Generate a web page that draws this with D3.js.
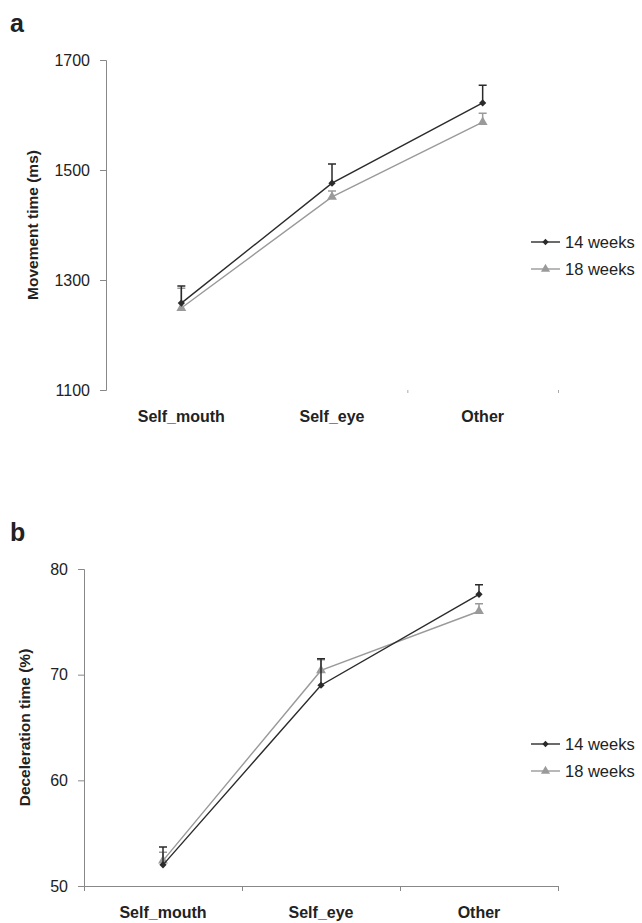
<!DOCTYPE html>
<html lang="en">
<head>
    <meta charset="UTF-8">
    <title>Movement and deceleration time</title>
    <script src="https://d3js.org/d3.v7.min.js"></script>
    <style>
        body { margin: 0; background: #fff; }
        text { font-family: "Liberation Sans", Arial, sans-serif; fill: #222; }
    </style>
</head>
<body>
    <svg id="chart"></svg>

    <script>
        // data
        const categories = ['Self_mouth', 'Self_eye', 'Other'];
        const seriesNames = ['14 weeks', '18 weeks'];

        const movement14 = [1258, 1476, 1622];
        const movement14Err = [31, 35, 32];
        const movement18 = [1249, 1451, 1587];
        const movement18Err = [36, 11, 16];
        const movementTicks = [1100, 1300, 1500, 1700];

        const decel14 = [52.0, 69.0, 77.6];
        const decel14Err = [1.7, 2.5, 0.9];
        const decel18 = [52.4, 70.4, 76.0];
        const decel18Err = [0.8, 1.0, 0.7];
        const decelTicks = [50, 60, 70, 80];

        const width = 642, height = 923;
        const svg = d3.select('#chart').attr('width', width).attr('height', height);

        const colors = ['#2b2b2b', '#9a9a9a'];
        const symbols = [d3.symbolSquare, d3.symbolTriangle];
        const rotations = [45, 0];

        function drawPanel(cfg) {
            const g = svg.append('g');

            const x = d3.scaleBand().domain(categories).range([cfg.left, cfg.right]);
            const y = d3.scaleLinear().domain(cfg.domain).range([cfg.bottom, cfg.top]);

            // panel letter
            g.append('text')
                .attr('x', 10).attr('y', cfg.top - 28)
                .attr('font-size', 25).attr('font-weight', 'bold')
                .text(cfg.letter);

            // y axis
            const yAxis = g.append('g')
                .attr('transform', `translate(${cfg.left},0)`)
                .call(d3.axisLeft(y).tickValues(cfg.ticks).tickFormat(d3.format('d')).tickSize(6).tickPadding(10));
            yAxis.select('.domain').attr('stroke', '#888');
            yAxis.selectAll('.tick line').attr('stroke', '#888');
            yAxis.selectAll('.tick text')
                .attr('font-size', 16).attr('fill', '#333')
                .style('font-family', '"Liberation Sans", Arial, sans-serif');

            // x axis: ticks on category boundaries
            const bounds = d3.range(categories.length + 1).map(i => cfg.left + i * x.step());
            const xb = d3.scaleLinear().domain([cfg.left, cfg.right]).range([cfg.left, cfg.right]);
            const xAxis = g.append('g')
                .attr('transform', `translate(0,${cfg.bottom})`)
                .call(d3.axisBottom(xb).tickValues(cfg.showDomain ? bounds : bounds.slice(2)).tickSize(cfg.showDomain ? 5 : 3).tickFormat(''));
            xAxis.select('.domain').attr('stroke', cfg.showDomain ? '#888' : 'none');
            xAxis.selectAll('.tick line').attr('stroke', cfg.showDomain ? '#888' : '#aaa');

            g.selectAll('.cat')
                .data(categories)
                .enter().append('text')
                .attr('class', 'cat')
                .attr('x', d => x(d) + x.bandwidth() / 2)
                .attr('y', cfg.bottom + 32)
                .attr('text-anchor', 'middle')
                .attr('font-size', 16).attr('font-weight', 'bold')
                .text(d => d);

            // y title
            g.append('text')
                .attr('transform', `translate(${cfg.titleX},${(cfg.top + cfg.bottom) / 2}) rotate(-90)`)
                .attr('text-anchor', 'middle')
                .attr('font-size', 15.5).attr('font-weight', 'bold')
                .text(cfg.title);

            const line = d3.line()
                .x((d, i) => x(categories[i]) + x.bandwidth() / 2)
                .y(d => y(d));

            // draw grey series first, dark on top
            [1, 0].forEach(s => {
                const vals = cfg.values[s];
                const errs = cfg.errors[s];
                const sg = g.append('g');

                sg.selectAll('.err')
                    .data(vals)
                    .enter().append('path')
                    .attr('d', (d, i) => {
                        const cx = x(categories[i]) + x.bandwidth() / 2;
                        const y0 = y(d), y1 = y(d + errs[i]);
                        return `M${cx},${y0}V${y1}M${cx - 4},${y1}H${cx + 4}`;
                    })
                    .attr('stroke', colors[s]).attr('stroke-width', 1.5).attr('fill', 'none');

                sg.append('path')
                    .datum(vals)
                    .attr('d', line)
                    .attr('fill', 'none')
                    .attr('stroke', colors[s])
                    .attr('stroke-width', 1.4);

                sg.selectAll('.pt')
                    .data(vals)
                    .enter().append('path')
                    .attr('transform', (d, i) => `translate(${x(categories[i]) + x.bandwidth() / 2},${y(d)}) rotate(${rotations[s]})`)
                    .attr('d', d3.symbol().type(symbols[s]).size(s === 0 ? 26 : 42))
                    .attr('fill', colors[s]);
            });

            // legend
            const lg = g.append('g').attr('transform', `translate(${cfg.legendX},${cfg.legendY})`);
            seriesNames.forEach((name, s) => {
                const row = lg.append('g').attr('transform', `translate(0,${s * 27})`);
                row.append('line').attr('x1', 0).attr('x2', 29).attr('y1', 0).attr('y2', 0)
                    .attr('stroke', colors[s]).attr('stroke-width', 1.4);
                row.append('path')
                    .attr('transform', `translate(14.5,0) rotate(${rotations[s]})`)
                    .attr('d', d3.symbol().type(symbols[s]).size(s === 0 ? 20 : 36))
                    .attr('fill', colors[s]);
                row.append('text')
                    .attr('x', 34).attr('y', 0).attr('dy', '0.35em')
                    .attr('font-size', 16.5).attr('fill', '#222')
                    .text(name);
            });
        }

        drawPanel({
            letter: 'a',
            title: 'Movement time (ms)',
            domain: [1100, 1700],
            ticks: movementTicks,
            values: [movement14, movement18],
            errors: [movement14Err, movement18Err],
            left: 106, right: 558, top: 60, bottom: 390,
            titleX: 38, showDomain: false,
            legendX: 531, legendY: 242
        });

        drawPanel({
            letter: 'b',
            title: 'Deceleration time (%)',
            domain: [50, 80],
            ticks: decelTicks,
            values: [decel14, decel18],
            errors: [decel14Err, decel18Err],
            left: 84, right: 558, top: 569, bottom: 886,
            titleX: 30, showDomain: true,
            legendX: 531, legendY: 744
        });
    </script>
</body>
</html>
